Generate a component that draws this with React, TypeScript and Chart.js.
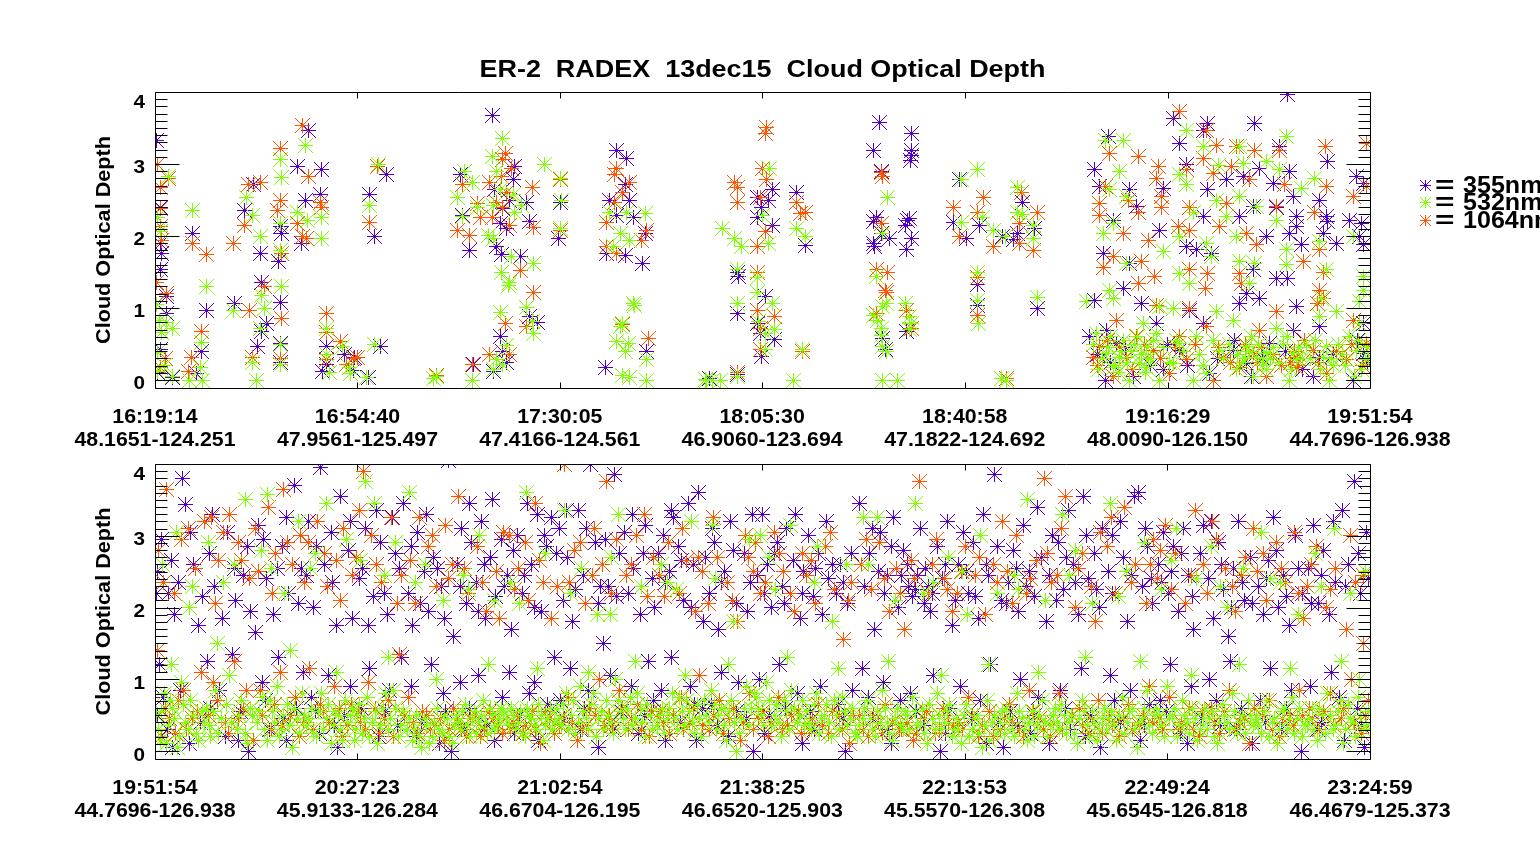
import React, { useEffect, useRef } from "react";
import { Chart, registerables } from "chart.js";

Chart.register(...registerables);

// ---------- axis ticks & labels (minutes after the first tick) ----------
const TOP_TICKS = [0, 35.433, 70.85, 106.267, 141.733, 177.25, 212.667];
const TOP_TIMES = ["16:19:14", "16:54:40", "17:30:05", "18:05:30", "18:40:58", "19:16:29", "19:51:54"];
const TOP_POSITIONS = ["48.1651-124.251", "47.9561-125.497", "47.4166-124.561", "46.9060-123.694", "47.1822-124.692", "48.0090-126.150", "44.7696-126.938"];
const BOTTOM_TICKS = [0, 35.483, 71.0, 106.517, 141.983, 177.5, 213.083];
const BOTTOM_TIMES = ["19:51:54", "20:27:23", "21:02:54", "21:38:25", "22:13:53", "22:49:24", "23:24:59"];
const BOTTOM_POSITIONS = ["44.7696-126.938", "45.9133-126.284", "46.6704-126.195", "46.6520-125.903", "45.5570-126.308", "45.6545-126.818", "46.4679-125.373"];
const Y_LABELS = [0, 1, 2, 3, 4];
const Y_MIN = -0.11;
const Y_MAX = 4.0;
const TITLE = "ER-2  RADEX  13dec15  Cloud Optical Depth";
const Y_TITLE = "Cloud Optical Depth";
const SERIES_NAMES = ["355nm", "532nm", "1064nm"];
const SERIES_COLORS = ["#5200c8", "#80ff00", "#ff5500"];

// ---------- top panel data: [minutes after 16:19:14, optical depth] ----------
const TOP_355 = [
  [0.35,3.33],[0.9,2.4],[0.9,1.9],[1.1,1.76],[0.9,1.53],[2.1,1.16],[2.1,0.93],[0.9,0.42],[0.4,0.1],[3.15,0.04],[7.3,0.09],[8.2,0.39],[6.5,2.04],[9.1,0.97],[14,1.07],[15.75,2.36],[17.3,2.71],[18.4,1.76],[18,0.46],[18.7,0.67],[18.7,1.35],[19.6,0.79],[21.9,2.13],[22.1,2.04],[21.7,1.64],[21.9,1.08],[21.9,0.51],[21.9,0.25],[26.8,3.47],[25,2.96],[26.3,2.5],[25.7,1.9],[29.2,2.92],[28.9,2.57],[30.1,0.46],[30.1,0.22],[29.4,0.12],[33.2,0.35],[34.7,0.13],[35,0.32],
  [37.3,0.04],[39.4,0.47],[40.6,2.85],[37.5,2.58],[38.5,1.99],[49.3,0.05],[53.4,2.85],[53.9,2.29],[55.1,1.8],[55.7,0.21],[59,3.68],[63,2.96],[62.7,2.78],[59.5,2.64],[62.1,2.5],[60.9,2.38],[60.4,2.17],[61.6,2.1],[59.8,1.85],[60.7,1.74],[63.9,1.71],[60.4,0.6],[60.9,0.39],[61.6,0.25],[59.3,0.12],[65.1,2.46],[65.6,2.2],[65.6,0.88],[66.9,0.8],[70.9,2.46],[70.6,1.97],[78.8,0.18],
  [80.8,3.19],[82.6,3.08],[82.3,2.71],[83.1,2.49],[79.6,2.49],[80.8,2.28],[83.7,2.26],[85.8,2.04],[79.1,1.76],[82.3,1.73],[85.4,1.62],[86.1,0.39],[96.6,0],[97.1,0.02],[102,1.5],[102.2,1.44],[102,0.92],[101.9,0.08],
  [108,2.64],[105.4,2.54],[107.3,2.49],[106.2,2.4],[105.4,2.26],[108,2.15],[106.8,1.16],[105.4,0.79],[105.9,0.65],[108.5,0.56],[106.2,0.33],[112.3,2.6],[113.8,1.87],
  [126.9,3.58],[132.5,3.43],[125.7,3.19],[132.5,3.19],[132.5,3.12],[132.3,3.05],[127.2,2.9],[126.3,2.26],[125.7,2.2],[127.2,2.04],[128.6,1.97],[125.7,1.9],[126,1.86],[132.1,2.25],[131.8,2.21],[131.3,2.15],[132.5,1.97],[131.6,1.81],[127.4,0.58],[127.8,0.43],[131.6,0.68],
  [140.9,2.78],[139.7,2.19],[142.1,1.97],[144.4,2.15],[143.9,1.33],[144,1.04],[144.1,0.79],[148.4,1.99],[151.9,2.47],[151,2.04],[150.2,1.95],[154,2.1],[154.5,1.0],
  [198.3,3.96],[192.5,3.56],[184.3,3.56],[178.2,3.63],[179.4,3.29],[183.5,3.47],[166.9,3.38],[196.9,3.24],[205.3,3.03],[198.6,2.89],[193.4,2.94],[164.5,2.92],[180.6,2.99],[187.6,2.78],[190.5,2.82],[165.4,2.69],[176.5,2.66],[184.3,2.64],[195.7,2.73],[170.6,2.64],[203.9,2.5],[210.3,2.82],[211.5,2.73],[199.2,2.55],[171.8,2.41],[192.2,2.41],[196.3,2.39],[189.9,2.27],[199.8,2.27],[183.5,2.27],[167.7,2.22],[209.1,2.22],[211.2,2.17],[205.3,2.2],[199.8,2.13],[175.9,2.08],[198.6,2.04],[204.5,2.04],[194.5,1.99],[210.9,1.99],[180.6,1.85],[182.3,1.81],[200.7,1.88],[206.8,1.9],[166,1.76],[184.9,1.76],[211.5,1.88],[192.2,1.53],[196.3,1.41],[198.3,1.41],[170.6,1.62],[191.1,1.2],[189.9,1.07],[169.5,1.27],[172.7,1.07],[164.5,1.11],[199.8,1.02],[193.4,1.13],[203.9,0.74],[199.2,0.69],[181.1,0.97],[183.5,0.78],[175.3,0.78],[166.6,0.69],[163.6,0.6],[168.3,0.51],[179.4,0.41],[188.8,0.41],[195.1,0.51],[203.9,0.32],[211.5,0.37],[166.3,0],[171.2,0.05],[184.6,0.09],[191.9,0.05],[202.7,0.05],[209.7,0],[191,0.23],[176.5,0.14],[211.5,0.78],[205,2.27],
  [165,0.35],[167.2,0.25],[169.9,0.45],[174.2,0.2],[177.2,0.5],[180.8,0.2],[185.9,0.3],[189,0.55],[193.9,0.3],[197.8,0.4],[200.9,0.15],[206.3,0.35],[210.4,0.55],[212.3,0.25],
];
const TOP_532 = [
  [0.5,2.26],[0.9,2.06],[2.3,2.82],[0.2,1.05],[0.8,0.83],[2.1,0.8],[3,0.72],[1.2,0.66],[0.4,0.38],[0.5,0.12],[3.15,0.05],[1.6,0.2],[7.9,0.18],[8.4,0],[8.2,0.52],[6.1,0],[6.5,2.36],[9.1,1.3],[13.7,0.97],[16.1,2.54],[17,2.29],[18.4,1.99],[17,0.25],[17.8,0],[18.7,1.17],[19.2,1.0],[18.4,0.72],[21.9,3.06],[22.2,2.81],[21.9,2.18],[21.9,1.8],[22.2,1.3],[21.9,0.49],[21.9,0.22],[26.4,3.26],[24.9,2.33],[26.7,2.22],[29.2,2.26],[29.2,1.97],[30.1,0.72],[30.1,0.36],[30.6,0.1],[32.9,0.47],[34.1,0.18],[34.3,0.09],
  [37.1,0.04],[38.5,0.49],[39.2,2.99],[37.5,2.43],[49.3,0.05],[48.8,0.02],[54.2,2.89],[55.5,2.75],[53,2.54],[53.9,2.27],[55.5,0],[56.5,2.4],[60.9,3.36],[59,3.1],[59.8,2.89],[60.4,2.64],[62.7,2.57],[59.3,2.42],[63,2.33],[58.3,2.01],[59.3,1.97],[62.4,1.71],[60.7,1.5],[66.2,1.62],[62.1,1.35],[61.8,1.31],[60.4,0.94],[61.6,0.48],[59.8,0.29],[60.9,0.21],[59.3,0.15],[64.2,2.42],[68.2,2.99],[65.1,1.01],[66,0.82],[66.2,0.65],[70.9,2.8],[71.1,2.5],[70.9,2.1],
  [79.6,2.33],[82.6,2.33],[85.8,2.31],[81.4,2.04],[80.2,1.85],[83.1,1.94],[83.7,1.07],[84,1.04],[81.9,0.79],[81.4,0.75],[80.8,0.54],[82.8,0.51],[82.3,0.4],[86.1,0.29],[81.9,0.06],[83.1,0.03],[86.1,0],[96.6,0],[96.3,0.01],[97.5,0],[98.9,0],[99.4,2.11],[101.5,1.97],[102.7,1.85],[102,1.53],[102,1.07],[101.9,0.05],
  [107.6,2.94],[106.4,2.28],[107.3,1.9],[105.4,1.43],[105.4,1.21],[108,1.07],[105.6,0.82],[108.5,0.7],[106.8,0.65],[106.8,0.42],[112.3,2.11],[113.8,2.0],[113.4,0.42],[111.7,0],
  [128.3,2.53],[127.4,2.04],[126.3,1.44],[128.1,1.07],[127.4,1.02],[125.7,0.9],[126.5,0.83],[127.2,0.72],[127.2,0.62],[127.4,0.47],[128.1,0.4],[129.9,0],[127.4,0],[131.3,1.07],[132.1,0.88],[132.5,0.79],[132.1,0.7],
  [141.2,2.78],[144,2.92],[141.2,2.19],[144.9,2.26],[144,1.5],[144,1.1],[144.2,0.79],[146.7,2.08],[148.8,1.99],[151,2.68],[151,2.32],[151.9,2.3],[153.7,2.15],[153.7,1.97],[154.5,1.15],[149.1,0],[148.2,0.02],
  [166.3,3.33],[169.5,3.33],[198.1,3.38],[180.6,3.47],[189.9,3.24],[183.5,3.24],[196.9,2.92],[194.5,3.03],[168.9,2.89],[203,2.8],[200.7,2.66],[179.4,2.85],[190.5,3.01],[186.1,2.98],[180.6,2.71],[167.1,2.64],[170.1,2.55],[189.9,2.55],[192.8,2.41],[185.8,2.5],[181.7,2.32],[187.6,2.27],[196.3,2.22],[167.7,2.17],[166,2.04],[179.4,1.99],[189.3,1.99],[184.1,1.9],[176.5,1.78],[184.9,1.71],[198.1,1.81],[203.9,1.92],[209.7,1.99],[170.1,1.62],[189.9,1.64],[192.5,1.62],[198.1,1.6],[179.4,1.48],[181.1,1.34],[205,1.53],[211.5,1.44],[167.1,1.25],[191.6,1.34],[211.5,1.25],[210.9,1.09],[163,1.09],[167.7,1.13],[175.9,1.02],[178.2,1.0],[185.8,0.95],[196.3,0.72],[204.2,1.13],[206.8,0.95],[203.9,0.88],[210.9,0.78],[173,0.78],[188.7,0.83],[164.8,0.65],[169.5,0.55],[173.6,0.46],[175.3,0.65],[179.4,0.51],[182.3,0.6],[186.4,0.41],[191,0.46],[192.8,0.32],[194.6,0.37],[199.2,0.37],[199.8,0.28],[204.5,0.32],[205,0.46],[210.3,0.41],[211.8,0.28],[168.9,0.32],[172.4,0.23],[170.6,0],[175.9,0],[181.7,0],[198.6,0],[205.6,0],[210,0.05],[189.3,0.14],[184,0.09],[178.2,0.23],[194.5,0.14],[166.6,0.37],[167.7,0.18],[173.6,0.18],[192.2,0.05],
  [165.8,0.3],[166.9,0.45],[168.1,0.2],[169.2,0.4],[170.3,0.25],[171.4,0.5],[172.6,0.35],[173.9,0.3],[174.8,0.55],[189.5,0.35],[190.4,0.25],[191.5,0.4],[193.1,0.5],[193.8,0.2],[195.2,0.3],[197.6,0.5],[198.9,0.15],[200.1,0.45],[202.3,0.3],[203.2,0.55],[206.2,0.2],[207.8,0.35],[209,0.6],[212.2,0.45],
  [164.2,0.5],[165.1,0.15],[167.3,0.6],[168.6,0.1],[170.9,0.4],[172,0.6],[173.3,0.1],[174.3,0.3],[176.6,0.45],[177.5,0.25],[178.8,0.55],[180.1,0.4],[182.8,0.35],[183.6,0.2],[185.2,0.55],[187.1,0.3],[188,0.5],[190.8,0.3],[191.9,0.6],[194,0.3],[195.7,0.45],[196.8,0.25],[198.3,0.6],[200.8,0.3],[201.6,0.5],[204,0.15],[205.9,0.3],[207.2,0.5],[208.4,0.2],[210.6,0.55],[211.2,0.15],[212.4,0.3],
];
const TOP_1064 = [
  [0.5,3.0],[0.9,2.68],[2.4,2.8],[1.0,2.38],[0.9,2.13],[1.1,1.94],[0.35,1.35],[2.0,1.2],[0.9,0.18],[1.8,0.3],[6.4,0.32],[5.8,0.12],[8.2,0.67],[6.5,1.9],[9.1,1.74],[13.7,1.9],[15.75,2.15],[16.3,2.71],[18.4,2.75],[18.4,2.0],[17,0.32],[16.6,0.97],[19.2,1.3],[21.9,3.22],[21.9,2.5],[21.5,2.36],[22.1,1.76],[22.2,0.86],[21.9,0.3],[25.9,3.54],[26.8,2.82],[24.9,2.18],[25.9,1.99],[26.6,1.96],[28.9,2.46],[29.1,2.4],[30.1,0.93],[30.1,0.66],[30.1,0.29],[32.4,0.53],[33.6,0.22],[34.7,0.3],[35.4,0.32],
  [39,2.97],[37.5,2.19],[49.3,0.07],[53.9,2.71],[53,2.08],[55.1,2.01],[55.5,0.21],[56.9,2.26],[56.4,2.45],[61.3,3.15],[60.9,3.06],[62.4,2.94],[60.7,2.82],[58.6,2.75],[61.6,2.6],[59.8,2.47],[60.9,2.4],[59,2.26],[62.1,2.14],[63.9,1.52],[66.2,1.22],[61.3,0.79],[58.6,0.35],[62.1,0.35],[66,2.67],[66.2,2.12],[65.1,0.75],[70.9,2.78],[70.9,2.08],
  [80.8,2.94],[80.5,2.86],[83.1,2.75],[81.9,2.61],[80.5,2.47],[79.1,2.19],[86.1,2.08],[79.1,1.85],[80.8,1.76],[85.2,1.94],[81.9,0.77],[86.3,0.58],[101.5,2.75],[102,2.68],[102,2.47],[101.9,0.11],
  [107.1,3.51],[106.8,3.42],[106.4,2.94],[107.1,2.78],[105.9,2.54],[106.8,2.06],[105.4,1.85],[105.4,1.5],[105.4,0.97],[108.5,0.88],[105.9,0.72],[105.9,0.42],[112.3,2.46],[112.9,2.31],[113.8,2.33],[113.4,0.39],
  [127.2,2.88],[127.3,2.83],[127.2,2.17],[126.3,1.53],[128.3,1.5],[128.1,1.21],[127.8,1.25],[126.3,0.93],[131.6,0.97],[132.5,0.72],
  [145.1,2.54],[139.7,2.4],[140.9,1.99],[143.9,2.33],[144,1.43],[144,0.9],[146.7,1.85],[151.7,2.61],[151.4,2.18],[151.4,1.9],[154.5,2.32],[153.7,1.8],[149.1,0.02],
  [179.4,3.73],[185.8,3.26],[184,3.47],[189.3,3.24],[192.5,3.19],[196.9,3.19],[204.8,3.24],[212,3.29],[172.1,3.1],[167.1,3.15],[175.6,2.96],[180.6,2.92],[183.5,3.08],[188.4,2.96],[175.3,2.8],[185.2,2.87],[191.6,2.78],[197.7,2.71],[205,2.69],[166.3,2.69],[170.4,2.5],[176.2,2.55],[165.4,2.45],[176.2,2.39],[181.1,2.39],[187.6,2.45],[196.3,2.41],[203,2.32],[209.7,2.55],[212,2.69],[165.4,2.29],[172.1,2.32],[179.1,2.13],[181.1,2.08],[186.4,2.13],[191,2.04],[173.9,1.94],[169.5,2.04],[192.8,1.88],[203.9,1.81],[167.7,1.71],[172.7,1.64],[166,1.57],[181.1,1.53],[184.3,1.48],[189.9,1.48],[201,1.64],[204.5,1.5],[175,1.44],[172.1,1.34],[183.8,1.27],[190.2,1.34],[203.9,1.25],[196.3,0.95],[168.3,0.83],[181.1,1.0],[175.3,1.04],[184.1,0.74],[203.4,1.07],[171.8,0.6],[179.4,0.6],[193.4,0.69],[209.7,0.83],[204.5,1.13],[165.4,0.46],[170.1,0.32],[174.7,0.41],[180.6,0.28],[187,0.32],[189.9,0.18],[192.2,0.37],[199.8,0.32],[202.7,0.41],[208.6,0.28],[212,0.51],[167.7,0.05],[177.6,0.09],[185.2,0],[194.5,0.05],[205,0.09],[199.8,0.18],[164.2,0.32],
  [198.8,0.25],[199.5,0.4],[200.2,0.2],[192.9,0.25],[193.6,0.45],
  [164.9,0.2],[166.8,0.55],[168.9,0.45],[171.1,0.15],[173.2,0.5],[176,0.3],[178.6,0.45],[182.1,0.5],[186.1,0.45],[188.3,0.25],[190.9,0.5],[195.7,0.35],[197.2,0.2],[201.2,0.55],[203.6,0.25],[206.8,0.4],[209.4,0.5],[211.3,0.2],
];

// ---------- bottom panel data: [minutes after 19:51:54, optical depth] ----------
const BOTTOM_355 = [
  [4.9,3.8],[5.3,3.43],[1.2,2.95],[0.5,2.5],[2.4,2.2],[3.5,1.9],[6.8,2.6],[7.6,1.75],[0.8,1.2],[2.2,0.3],[3.1,0.05],[1.5,0.75],[6.1,0.1],[7.9,0.4],
  [9.6,2.75],[10.5,2.3],[12.8,3.05],[14.2,2.1],[15.5,2.45],[16.8,1.95],[9.2,1.25],[11.3,0.85],[13.6,1.35],[15,0.55],[16.4,0],[12.4,0.2],
  [18.2,3.15],[19.6,2.4],[20.8,1.9],[22.3,2.85],[23.5,2.2],[24.4,3.7],[25.7,2.55],[18.8,0.95],[20.1,0.3],[21.6,1.3],[23,0.15],[24.9,0.6],[26,1.1],
  [27,3.2],[27.8,2.0],[29.1,3.95],[29.8,2.6],[31.2,2.35],[32.6,3.55],[33.9,2.8],[34.6,1.85],[27.4,0.75],[28.9,0.25],[30.5,1.05],[32,0.05],[33.2,0.5],[34.2,0.9],
  [35.8,2.4],[36.9,3.1],[38.4,2.15],[39.5,2.9],[40.8,1.9],[41.6,3.25],[42.9,2.55],[43.5,3.45],[36.2,0.6],[37.7,1.15],[39.2,0.2],[41.1,0.85],[42.5,0.35],[43.2,1.3],
  [44.5,2.2],[45.2,1.75],[46.1,3.05],[47.3,2.5],[48,1.95],[48.8,2.7],[50.2,2.3],[51.4,4.05],[52.3,1.6],[45,0.9],[46.8,0.4],[48.5,1.2],[49.9,0.1],[51,0.55],[52,0],
  [53.1,2.6],[53.8,3.1],[54.6,2.05],[55.5,2.9],[56.4,2.35],[57.2,3.2],[58,1.85],[58.9,2.7],[59.8,2.15],[60.7,2.95],[53.5,0.95],[55.1,0.6],[56.8,1.05],[58.4,0.35],[59.5,0.15],[60.9,0.75],
  [61.9,2.45],[62.6,1.7],[63.5,3.0],[64.4,2.2],[65.3,3.45],[66.1,2.6],[67,3.3],[67.8,1.95],[68.7,2.85],[69.6,3.25],[62.2,1.1],[63.9,0.5],[65.6,0.8],[67.3,0.15],[68.9,0.65],[70,1.3],
  [70.9,3.1],[71.6,2.1],[72.4,2.7],[73.2,1.8],[74.3,3.35],[75.1,2.45],[76.4,4.0],[77.3,2.9],[78.2,2.3],[71.2,0.7],[72.9,1.15],[74.6,0.3],[76,0.85],[77.8,0.05],[78.6,1.5],
  [79.5,2.3],[80.6,3.85],[81.4,2.75],[82.3,3.05],[83.1,2.2],[84,2.55],[85.2,1.9],[86.1,3.15],[87.2,2.4],[79.9,1.05],[81.8,0.55],[83.5,0.9],[84.8,0.25],[86.5,1.25],[87.4,0.7],
  [88.3,2.75],[89.1,3.0],[90.2,2.5],[91,3.25],[91.8,2.85],[92.7,2.1],[93.6,3.45],[94.5,2.6],[95.4,3.6],[96.2,1.8],[88.8,0.85],[90.5,1.3],[92.1,0.4],[93.9,0.9],[95,0.15],[96,0.6],
  [97.2,2.2],[98.1,2.9],[98.9,1.7],[99.8,2.5],[100.9,3.2],[102,2.05],[103.3,2.75],[104.5,2.35],[97.6,0.65],[99.3,1.1],[100.6,0.2],[102.4,0.95],[103.8,0.45],[104.9,0],
  [105.7,2.45],[106.5,3.3],[107.4,2.6],[108.2,2.0],[109.1,2.9],[110,2.3],[110.8,3.1],[111.9,2.65],[113.2,1.85],[113.8,2.5],[106,1.0],[107.8,0.5],[109.5,1.2],[111.2,0.3],[112.6,0.8],[113.5,0.1],
  [114.6,3.0],[115.4,2.15],[116.3,2.75],[117.1,1.9],[118.2,2.4],[119.5,2.2],[120.3,2.6],[121.5,2.05],[114.9,0.55],[116.7,0.9],[118.6,0.2],[119.9,0.65],[121.1,0],[122.4,0.85],
  [123.5,3.45],[124.4,2.3],[125.3,2.75],[126.2,1.7],[127.3,3.05],[128.5,2.45],[129.6,3.25],[130.4,2.0],[131.2,2.8],[124,1.15],[125.8,0.45],[127.7,0.95],[129.1,0.1],[130.8,0.7],
  [132.2,2.3],[132.8,2.15],[133.4,2.25],[134.3,3.1],[135.1,2.55],[136,1.95],[137.2,2.85],[138.1,2.4],[139,3.2],[139.8,1.75],[132.5,0.8],[134.7,0.35],[136.6,1.05],[137.8,0],[139.4,0.6],
  [140.9,2.6],[141.8,3.05],[142.6,2.2],[143.5,2.9],[144.4,1.85],[145.3,3.3],[146.2,2.45],[147.3,3.85],[148.4,2.1],[141.2,0.9],[142.9,0.2],[144.8,0.7],[146.5,1.2],[147.9,0.4],[148.8,0.05],
  [149.7,2.35],[150.5,2.8],[151.4,1.95],[152.4,3.15],[153.3,2.5],[154.2,2.15],[155.4,2.7],[156.3,1.8],[157.4,3.0],[150,0.55],[151.8,1.0],[153.6,0.25],[155,0.75],[156.8,0.1],
  [158.5,2.9],[159.3,2.25],[160.2,3.35],[161.1,2.6],[162,1.9],[162.9,3.55],[163.8,2.4],[164.7,2.75],[165.6,2.0],[166.2,3.1],[158.8,0.85],[160.6,0.3],[162.4,1.15],[164.1,0.5],[165.9,0.05],
  [167.2,2.5],[168,3.0],[168.9,2.15],[169.8,2.7],[170.6,1.8],[171.7,3.55],[172.4,3.6],[173.2,2.3],[174.1,2.85],[175,2.05],[167.6,1.05],[169.3,0.4],[171,0.85],[172.8,0.15],[174.5,0.65],
  [176,2.6],[176.9,3.05],[177.7,2.2],[178.6,2.85],[179.5,1.95],[180.4,3.1],[181.3,2.45],[182.2,1.7],[183.3,2.75],[176.3,0.7],[178.1,1.2],[179.9,0.25],[181.7,0.9],[183.6,0.45],
  [184.8,2.4],[185.6,1.85],[186.5,2.9],[187.4,2.25],[188.3,1.6],[189.2,2.55],[190.1,3.2],[191,2.1],[192.1,2.7],[185,1.0],[186.9,0.35],[188.7,1.25],[190.5,0.6],[192.4,0.1],
  [193.5,2.3],[194.4,1.9],[195.3,2.65],[196.2,3.25],[197.1,2.0],[198,2.45],[199,1.75],[200,3.0],[201.2,2.2],[193.8,0.7],[195.7,1.15],[197.5,0.3],[199.4,0.85],[201,0],
  [202.3,2.55],[203.2,3.15],[204.1,2.05],[205,2.8],[206,1.9],[207.1,2.35],[208.2,3.35],[209.3,2.6],[210.4,3.75],[211.4,2.2],[212.5,3.05],[202.7,0.9],[204.5,0.4],[206.4,1.1],[208.6,0.15],[210.9,0.6],[212.2,0.05],
  [0.3,2.2],[2.9,2.65],[4.1,2.35],[6.2,3.05],[8.4,2.15],[10,3.3],[11.8,1.85],[13.9,2.55],[16.2,2.85],[17.6,1.65],[19.1,2.95],[21.4,2.55],[23.1,3.25],[25.2,2.05],[26.6,2.45],[28.4,2.85],[30.9,3.05],[31.9,1.75],[34.3,3.2],[36.4,2.55],[37.4,1.75],[38.9,3.35],[40.2,2.2],[42.2,2.75],[44.9,2.85],[46.6,2.05],[47.7,3.3],[49.5,2.55],[50.8,1.85],[53.5,2.3],[55.1,3.45],[56.8,1.95],[57.8,2.6],[59.2,3.5],[61.3,2.3],[62.9,2.8],[64.8,2.45],[66.5,2.0],[68.3,3.0],[70.4,2.75],[72.1,3.35],[73.7,2.25],[75.7,3.1],[77.7,2.05],[79,2.95],[80.9,2.15],[83.8,3.3],[85.7,2.75],[87.6,2.0],[89.5,2.35],[90.6,3.35],[92.3,2.65],[94.1,2.0],[96.6,2.7],[97.7,3.1],[99.3,2.35],[101.5,2.8],[103.9,1.95],[104.8,3.3],[106.9,2.2],[108.6,2.75],[110.4,2.05],[112.4,3.3],[113.5,2.2],[115.8,2.55],[117.7,3.2],[118.9,2.6],[120.8,2.35],[122.1,2.75],[125.9,3.1],[126.8,2.5],[128,2.2],[129.1,2.85],[130.9,2.45],[131.9,2.6],[133.8,2.45],[134.9,2.05],[135.6,2.3],[136.4,2.2],[138.6,2.6],[140.4,2.1],[142.3,2.5],[143.9,2.15],[145.8,2.6],[147.8,2.85],[149.3,2.05],[151,2.55],[152.9,2.3],[154.7,3.4],[156.9,2.45],[158.1,2.1],[159.8,2.7],[161.5,2.35],[163.3,3.0],[165.2,2.25],[167.9,2.2],[169.4,3.2],[171.2,2.45],[173.7,3.1],[174.7,2.4],[176.5,2.35],[178.2,2.5],[180,2.75],[181.9,2.15],[183.9,3.15],[185.2,3.2],[187,2.6],[188.8,2.0],[190.7,2.35],[192.5,2.05],[194.9,2.4],[196.7,2.8],[198.5,2.15],[200.5,2.55],[202.8,2.05],[204.6,2.45],[206.6,3.2],[208.8,2.3],[211,2.75],[212.8,2.4],
  [0.4,0.5],[4.4,0.85],[9.8,0.6],[14.6,0.15],[19.4,0.7],[22.6,0.45],[28.2,0.55],[31.5,0.35],[36.9,0.3],[40.4,0.55],[45.8,0.2],[50.6,0.8],[54.2,0.3],[57.6,0.7],[63.1,0.25],[66.6,0.95],[71.9,0.45],[75.4,0.6],[80.4,0.3],[85.9,0.5],[89.6,0.15],[94.7,0.65],[98.6,0.35],[101.9,0.55],[106.9,0.25],[110.6,0.6],[115.6,0.3],[120.7,0.45],[125.1,0.75],[128.4,0.3],[133.6,0.55],[138.6,0.25],[143.2,0.45],[145.9,0.1],[151.2,0.35],[154.3,0.5],[159.7,0.6],[163.2,0.2],[168.3,0.7],[173.6,0.35],[177.4,0.55],[181,0.1],[186.2,0.7],[189.7,0.3],[194.7,0.4],[198.5,0.6],[203.8,0.3],[207.8,0.75],[211.6,0.35],
];
const BOTTOM_532 = [
  [1.4,2.6],[3.8,3.05],[6.5,2.3],[0.3,0.5],[0.9,0.15],[1.6,0.8],[2.4,0.35],[3.1,0.6],[3.9,0.05],[4.6,0.95],[5.4,0.4],[6.2,0.7],[7.3,0.25],[8.3,0.55],
  [9.4,2.9],[12.1,2.35],[15.8,3.5],[9.1,0.6],[9.8,0.2],[10.6,0.85],[11.7,0.45],[13,1.05],[14.4,0.3],[15.2,0.7],[16.3,0.1],[17.1,0.5],
  [18.6,2.8],[19.8,3.58],[22.7,2.2],[25.1,3.2],[17.9,0.4],[18.9,0.75],[19.7,0.15],[20.6,0.55],[21.4,0.9],[22.1,0.3],[23.2,0.65],[24.1,0.05],[25,0.45],[25.8,0.8],
  [27.3,2.55],[30.1,3.45],[33.5,2.95],[26.6,0.35],[27.5,0.6],[28.3,0.2],[29.2,0.8],[30,0.45],[30.9,0.1],[31.7,0.55],[32.5,0.3],[33.4,0.7],[34.2,0.5],[35,0.15],
  [37,3.75],[38.5,3.45],[40.3,2.45],[42.2,2.9],[35.5,0.5],[36.4,0.25],[37.3,0.75],[38.2,0.4],[39.1,0.1],[40,0.6],[40.9,0.3],[41.8,0.85],[42.7,0.2],[43.6,0.55],
  [44.6,3.6],[47.4,2.6],[50.6,2.1],[44.2,0.3],[45.1,0.15],[45.9,0.5],[46.8,0.05],[47.7,0.35],[48.6,0.2],[49.5,0.6],[50.4,0.25],[51.3,0.45],[52.2,0.1],
  [54.1,2.45],[56.9,3.0],[59.6,2.1],[52.9,0.5],[53.6,0.3],[54.4,0.65],[55.2,0.2],[56,0.55],[56.8,0.4],[57.6,0.7],[58.4,0.25],[59.2,0.5],[60,0.35],[60.8,0.6],
  [62.3,2.35],[65.2,3.6],[68.4,2.75],[61.7,0.45],[62.5,0.6],[63.3,0.3],[64.1,0.55],[64.9,0.2],[65.7,0.5],[66.5,0.35],[67.3,0.65],[68.1,0.15],[68.9,0.45],[69.7,0.3],
  [71.8,3.35],[74.8,2.55],[77.6,1.9],[70.5,0.6],[71.3,0.35],[72.1,0.8],[73,0.5],[73.8,0.25],[74.7,0.9],[75.6,0.45],[76.5,0.65],[77.4,0.2],[78.3,0.55],
  [80.1,2.7],[81.2,3.3],[85.4,2.3],[79.2,0.7],[80,0.4],[80.8,1.0],[81.7,0.55],[82.5,0.3],[83.4,0.75],[84.2,0.45],[85.1,0.6],[86,0.2],[86.9,0.5],
  [88.9,2.6],[91.5,2.25],[94.1,3.2],[88.1,0.35],[89,0.6],[89.8,0.45],[90.7,0.8],[91.6,0.3],[92.5,0.55],[93.3,0.7],[94.2,0.4],[95.1,0.65],[95.9,0.2],
  [98.3,2.4],[101.4,1.8],[104.2,2.95],[96.8,0.5],[97.6,0.85],[98.5,0.3],[99.4,0.6],[100.2,0.15],[101.1,0.7],[102,0],[102.9,0.45],[103.8,0.9],[104.7,0.6],
  [106.2,3.0],[108.8,2.25],[111.4,3.15],[105.5,0.75],[106.3,0.5],[107.2,0.95],[108.1,0.35],[109,0.65],[109.9,0.2],[110.8,0.55],[111.7,0.85],[112.6,0.4],[113.5,0.7],
  [115.7,2.35],[118.9,1.8],[121.3,2.6],[114.3,0.55],[115.2,0.3],[116,0.8],[116.9,0.45],[117.8,0.65],[118.7,0.2],[119.6,0.5],[120.5,0.75],[121.5,0.35],[122.4,0.6],
  [124.3,3.25],[126.7,3.25],[129.9,2.1],[123.2,0.2],[124,0.45],[124.9,0.7],[125.8,0.3],[126.7,0.55],[127.6,0.85],[128.5,0.4],[129.4,0.15],[130.3,0.6],[131.2,0.3],
  [133.4,3.45],[136.5,2.35],[139.2,2.7],[132,0.5],[132.8,0.75],[133.7,0.35],[134.6,0.6],[135.4,0.1],[136.3,0.45],[137.2,0.8],[138,0.3],[138.9,0.55],[139.8,0.2],
  [141.6,2.5],[144.7,3.0],[147.7,2.2],[140.6,0.45],[141.5,0.1],[142.4,0.65],[143.3,0.3],[144.2,0.5],[145.1,0.05],[146,0.7],[146.9,0.4],[147.8,0.25],[148.7,0.55],
  [150.8,2.45],[153.1,3.5],[156.2,2.1],[149.4,0.6],[150.3,0.3],[151.2,0.8],[152.1,0.45],[153,0.15],[153.9,0.55],[154.8,0.35],[155.7,0.7],[156.6,0.2],[157.5,0.5],
  [159.1,3.3],[161.5,2.8],[164.5,2.05],[158.2,0.4],[159,0.65],[159.9,0.25],[160.8,0.5],[161.7,0.1],[162.6,0.7],[163.5,0.35],[164.4,0.55],[165.3,0.15],[166.2,0.45],
  [167.6,3.45],[170.3,2.5],[173.5,2.9],[166.9,0.3],[167.8,0.55],[168.7,0.15],[169.6,0.75],[170.5,0.4],[171.4,0.6],[172.3,0.05],[173.2,0.45],[174.1,0.85],[175,0.25],
  [176.5,2.25],[179.1,3.1],[182.7,2.4],[175.7,0.6],[176.6,0.35],[177.5,0.9],[178.4,0.5],[179.3,0.2],[180.2,0.7],[181.1,0.4],[182,0.6],[182.9,0.15],[183.8,0.45],
  [185.2,2.85],[188.1,2.0],[190.9,2.55],[184.5,0.3],[185.4,0.55],[186.3,0.1],[187.2,0.65],[188.1,0.4],[189,0.8],[189.9,0.25],[190.8,0.5],[191.7,0.7],[192.6,0.35],
  [194.1,3.05],[197.4,2.35],[200.6,1.9],[193.2,0.5],[194.1,0.25],[195,0.7],[195.9,0.4],[196.8,0.1],[197.7,0.55],[198.6,0.3],[199.5,0.75],[200.4,0.45],[201.3,0.2],
  [203.5,2.75],[206.8,3.1],[209.7,2.2],[212.3,2.5],[202.1,0.35],[203,0.6],[203.9,0.15],[204.8,0.5],[205.7,0.8],[206.6,0.3],[207.5,0.55],[208.4,0.1],[209.3,0.65],[210.2,0.4],[211.1,0.75],[212,0.3],[212.9,0.55],
  [0.6,0.3],[1.2,0.55],[2,0.1],[2.8,0.7],[3.5,0.45],[4.3,0.2],[5,0.65],[5.8,0.3],[6.7,0.5],[7.7,0.15],[8.6,0.4],
  [9.5,0.35],[10.2,0.55],[11.1,0.25],[12.5,0.65],[13.4,0.4],[14.8,0.5],[15.9,0.25],[16.7,0.6],
  [18.3,0.55],[19.2,0.3],[20.2,0.7],[21,0.4],[21.8,0.2],[22.6,0.5],[23.6,0.35],[24.5,0.6],[25.4,0.25],[26.2,0.5],
  [26.9,0.45],[27.8,0.25],[28.7,0.55],[29.6,0.3],[30.5,0.65],[31.3,0.35],[32.1,0.5],[32.9,0.15],[33.8,0.4],[34.6,0.6],
  [35.1,0.3],[35.9,0.65],[36.8,0.45],[37.7,0.2],[38.6,0.55],[39.5,0.35],[40.4,0.8],[41.3,0.45],[42.2,0.6],[43.1,0.35],
  [44.6,0.45],[45.5,0.3],[46.3,0.2],[47.2,0.45],[48.1,0.1],[49,0.4],[49.9,0.3],[50.8,0.5],[51.7,0.2],[52.6,0.35],
  [53.2,0.4],[54,0.55],[54.8,0.35],[55.6,0.45],[56.4,0.25],[57.2,0.5],[58,0.4],[58.8,0.6],[59.6,0.3],[60.4,0.45],[61.2,0.55],
  [62.1,0.35],[62.9,0.5],[63.7,0.4],[64.5,0.25],[65.3,0.6],[66.1,0.45],[66.9,0.3],[67.7,0.5],[68.5,0.35],[69.3,0.6],[70.1,0.4],
  [70.9,0.45],[71.7,0.65],[72.5,0.3],[73.4,0.7],[74.2,0.4],[75.1,0.55],[76,0.3],[76.9,0.8],[77.8,0.45],[78.7,0.3],
  [79.6,0.5],[80.4,0.25],[81.3,0.7],[82.1,0.45],[82.9,0.6],[83.8,0.35],[84.6,0.8],[85.5,0.4],[86.4,0.65],[87.3,0.3],
  [88.5,0.5],[89.4,0.25],[90.3,0.6],[91.1,0.45],[92,0.75],[92.9,0.35],[93.7,0.55],[94.6,0.25],[95.5,0.45],[96.3,0.7],
  [97.2,0.4],[98.1,0.65],[98.9,0.5],[99.8,0.35],[100.7,0.55],[101.6,0.4],[102.5,0.25],[103.4,0.6],[104.3,0.35],[105.1,0.8],
  [105.9,0.6],[106.8,0.35],[107.7,0.7],[108.6,0.5],[109.5,0.4],[110.4,0.7],[111.3,0.3],[112.2,0.6],[113.1,0.5],[113.9,0.35],
  [114.7,0.4],[115.6,0.65],[116.5,0.25],[117.4,0.5],[118.3,0.4],[119.2,0.7],[120.1,0.3],[121,0.55],[121.9,0.45],[122.8,0.25],
  [123.6,0.35],[124.5,0.6],[125.4,0.45],[126.3,0.2],[127.2,0.4],[128.1,0.6],[128.9,0.25],[129.8,0.45],[130.7,0.35],[131.6,0.55],
  [132.4,0.3],[133.3,0.55],[134.2,0.4],[135,0.25],[135.9,0.65],[136.8,0.3],[137.6,0.5],[138.5,0.4],[139.4,0.65],[140.2,0.3],
  [141,0.3],[141.9,0.5],[142.8,0.2],[143.7,0.45],[144.6,0.25],[145.5,0.35],[146.4,0.15],[147.3,0.5],[148.2,0.4],[149,0.25],
  [149.8,0.45],[150.7,0.2],[151.6,0.55],[152.5,0.3],[153.4,0.4],[154.3,0.2],[155.2,0.5],[156.1,0.4],[157,0.35],[157.9,0.6],
  [158.6,0.3],[159.5,0.5],[160.3,0.4],[161.2,0.25],[162.1,0.45],[163,0.55],[163.9,0.2],[164.8,0.4],[165.7,0.3],[166.5,0.6],
  [167.3,0.45],[168.2,0.35],[169.1,0.5],[170,0.25],[170.9,0.55],[171.8,0.3],[172.7,0.4],[173.6,0.6],[174.5,0.35],[175.3,0.5],
  [176.1,0.5],[177,0.2],[177.9,0.45],[178.8,0.6],[179.7,0.35],[180.6,0.5],[181.5,0.25],[182.4,0.45],[183.3,0.3],[184.1,0.6],
  [184.9,0.45],[185.8,0.2],[186.7,0.4],[187.6,0.5],[188.5,0.3],[189.4,0.55],[190.3,0.4],[191.2,0.25],[192.1,0.5],[193,0.4],
  [193.6,0.35],[194.5,0.55],[195.4,0.2],[196.3,0.45],[197.2,0.3],[198.1,0.6],[199,0.45],[199.9,0.25],[200.8,0.6],[201.7,0.35],
  [202.5,0.45],[203.4,0.3],[204.3,0.6],[205.2,0.25],[206.1,0.5],[207,0.35],[207.9,0.7],[208.8,0.3],[209.7,0.45],[210.6,0.2],[211.5,0.5],[212.4,0.35],
  [2.9,1.2],[6,2.0],[10.9,1.5],[14,2.6],[20.5,2.55],[23.8,1.4],[28.2,2.75],[31.9,1.1],[36.1,2.65],[40.9,1.3],[45.7,2.35],[49.4,1.0],[55,2.25],[58.5,1.2],[63.9,2.05],[67.1,1.15],[72.8,2.2],[76.1,1.1],[79.9,1.9],[84.2,1.25],[89.9,2.35],[93.1,1.05],[97.7,3.15],[100.5,1.2],[107.8,2.7],[110.9,1.3],[116.2,2.85],[119.9,1.15],[125.1,2.6],[128.7,1.25],[134.8,2.2],[137.9,1.05],[142.5,1.9],[146.1,1.2],[151.5,2.25],[154.9,1.1],[160.4,2.45],[163.2,1.3],[169,2.15],[172.9,1.25],[178.2,2.65],[181.8,1.05],[186.9,2.3],[190.2,1.2],[195.6,2.4],[199.2,1.15],[204.5,2.3],[208.1,1.25],[211.2,1.0],
];
const BOTTOM_1064 = [
  [0.6,2.8],[2.1,3.65],[3.4,2.2],[5.8,3.1],[7.1,2.55],[0.4,1.4],[1.8,0.6],[3.6,0.25],[5,0.85],[6.6,0.45],[8.1,1.1],
  [9.9,3.25],[11.2,2.65],[13.1,3.3],[14.7,2.9],[16.5,2.4],[10.2,0.95],[12.3,0.4],[14,1.25],[15.6,0.6],[17.2,0.15],
  [18.1,2.5],[19.9,3.4],[21.1,2.75],[22.6,3.65],[24.2,2.6],[25.5,3.0],[18.5,0.85],[20.4,0.3],[22,1.1],[23.8,0.5],[25.4,0.2],
  [26.9,2.9],[28.5,3.2],[30.3,2.3],[31.8,2.65],[33.1,3.1],[34.7,2.45],[27.1,1.15],[29.5,0.55],[31.4,0.9],[32.9,0.2],[34.4,0.65],
  [35.4,2.7],[36.6,3.9],[37.9,3.0],[39.8,2.35],[41.4,3.25],[42.6,2.05],[36,0.4],[37.5,0.95],[39.4,0.25],[41,0.7],[42.9,1.35],[43.7,0.5],
  [44.8,2.65],[46.4,3.25],[47.9,2.85],[49.3,2.3],[50.9,3.15],[52.1,2.6],[44.4,0.75],[46.1,0.25],[47.6,0.5],[49.1,0.35],[50.7,0.15],[52.4,0.6],
  [53.3,3.55],[54.9,2.2],[56.6,2.85],[58.2,1.95],[59.9,2.5],[61.1,3.05],[53.8,0.3],[55.4,0.45],[57,0.2],[58.7,0.55],[60.3,0.35],
  [62.1,3.0],[63.8,2.55],[65.5,2.1],[66.8,3.45],[68.2,2.35],[69.5,1.85],[62.8,0.4],[64.6,0.25],[66.2,0.55],[67.6,0.1],[69.2,0.45],
  [70.6,2.3],[71.9,4.0],[73.5,2.8],[75.5,2.05],[77,3.1],[78.5,2.6],[71,0.35],[72.6,0.75],[74.1,0.15],[76.2,0.6],[77.9,1.0],
  [79.2,3.75],[80.9,2.95],[82.7,2.45],[84.4,3.0],[86.3,2.15],[87.5,2.7],[79.7,0.5],[81.4,0.85],[83,0.3],[84.7,0.65],[86.7,0.2],
  [88.5,2.45],[90,2.9],[91.9,2.2],[93.2,2.65],[94.8,1.95],[96.1,2.5],[88.6,0.55],[90.3,0.25],[92.3,0.75],[93.7,0.4],[95.5,1.05],
  [97,2.05],[98.6,2.7],[100.4,2.35],[102.2,1.8],[103.5,3.0],[105,2.5],[97.3,0.3],[99,0.7],[100.8,0.45],[102.7,0.15],[104.3,0.8],
  [105.4,2.9],[107,2.35],[108.6,3.05],[110.3,2.5],[112.1,1.95],[113.6,2.75],[105.9,0.45],[107.6,0.2],[109.3,0.75],[111,0.35],[112.9,0.55],
  [114.3,2.45],[115.9,2.05],[117.6,2.85],[119.1,2.25],[120.8,1.55],[122.2,2.35],[114.7,0.3],[116.4,0.65],[118.1,0.25],[120.1,0.5],[121.8,0.1],
  [123.9,2.6],[125.6,2.25],[127,2.9],[128.8,1.95],[130.1,2.55],[131.4,1.7],[123.5,0.5],[125.2,0.2],[126.9,0.4],[128.2,0.65],[130.5,0.3],
  [132.6,2.65],[134,3.75],[135.6,2.2],[137,2.95],[138.5,2.4],[139.9,1.95],[133,0.15],[134.9,0.45],[136.8,0.25],[138.3,0.6],[140,0.35],
  [140.7,2.2],[142.1,2.85],[143.9,2.45],[145.6,1.9],[147,2.6],[148.6,3.2],[141,0.4],[142.7,0.75],[144.5,0.2],[146.3,0.55],[148.2,0.3],
  [149.5,2.5],[151.1,3.0],[152.8,2.2],[154.6,2.65],[156,3.8],[157.2,2.35],[149.9,0.65],[151.6,0.3],[153.4,0.85],[155.2,0.45],[157,0.2],
  [158.3,2.45],[159.7,3.55],[161.4,2.0],[162.7,2.75],[164.2,2.3],[165.8,3.05],[158.6,0.8],[160.3,0.4],[162.1,0.6],[163.9,0.25],[165.5,0.7],
  [167,2.85],[168.5,2.2],[170,3.4],[171.9,2.6],[173.8,2.05],[175.2,2.95],[167.4,0.5],[169.1,0.2],[170.8,0.65],[172.6,0.35],[174.4,0.9],
  [175.8,2.4],[177.3,3.15],[179,2.75],[180.7,2.05],[182.5,3.35],[183.9,2.6],[176.1,0.45],[177.9,0.75],[179.7,0.3],[181.4,0.6],[183.1,0.2],
  [184.6,2.2],[186.2,2.95],[187.8,2.55],[189.5,1.95],[191.3,2.7],[192.6,3.1],[185.2,0.6],[186.7,0.25],[188.5,0.85],[190.2,0.4],[192,0.1],
  [193.3,2.5],[195,2.1],[196.6,2.9],[198.3,2.35],[199.8,3.05],[201.5,1.85],[193.6,0.35],[195.4,0.7],[197.2,0.2],[199.1,0.5],[200.8,0.85],
  [202.1,2.3],[203.7,2.85],[205.4,2.0],[207,2.55],[208.9,1.7],[210.6,2.35],[212,1.5],[202.5,0.6],[204.2,0.3],[206.1,0.8],[208,0.45],[209.9,1.0],[211.6,0.25],[212.8,0.7],
  [1.1,0.2],[2.6,0.45],[4.2,0.7],[5.6,0.3],[7.5,0.55],[9.4,0.5],[11,0.7],[12.9,0.25],[14.6,0.45],[16.1,0.85],[18.9,0.5],[20.9,0.65],[22.4,0.35],[24.6,0.75],[26,0.4],
  [27.8,0.3],[29,0.65],[30.6,0.4],[32.3,0.6],[33.8,0.35],[35.7,0.55],[37,0.3],[38.6,0.6],[40.3,0.45],[41.9,0.2],[45.3,0.4],[46.9,0.55],[48.3,0.3],[50,0.45],[51.6,0.3],
  [53.1,0.45],[54.6,0.2],[56.2,0.5],[57.8,0.3],[59.4,0.45],[60.9,0.25],[62.3,0.3],[63.5,0.5],[65,0.35],[66.8,0.3],[68.4,0.55],[70,0.25],
  [71.6,0.5],[73.2,0.4],[74.9,0.3],[75.7,0.35],[77.2,0.5],[78.8,0.35],[80.3,0.35],[82,0.6],[83.6,0.45],[85.4,0.3],[87.1,0.55],
  [89.2,0.4],[91,0.5],[92.7,0.3],[94.4,0.6],[96,0.35],[98,0.5],[99.7,0.25],[101.5,0.6],[103.2,0.4],[104.9,0.3],
  [106.6,0.55],[108.2,0.4],[110,0.3],[111.7,0.5],[113.3,0.25],[115.3,0.45],[117,0.35],[118.8,0.55],[120.5,0.3],[122.5,0.5],
  [124.3,0.3],[126,0.5],[127.6,0.25],[129.3,0.4],[131,0.3],[131.9,0.4],[133.6,0.25],[135.3,0.55],[137.5,0.3],[139.2,0.4],
  [141.7,0.3],[143.4,0.5],[145.2,0.35],[147.1,0.2],[148.9,0.45],[150.4,0.4],[152.3,0.2],[154,0.55],[155.9,0.3],[157.5,0.4],
  [159.2,0.3],[160.9,0.5],[162.7,0.35],[164.5,0.45],[166.1,0.25],[168,0.35],[169.8,0.45],[171.5,0.3],[173.3,0.5],[175,0.4],
  [176.7,0.3],[178.5,0.5],[180.1,0.4],[182.1,0.3],[183.7,0.55],[185.8,0.4],[187.5,0.55],[189.3,0.3],[191,0.45],[192.9,0.6],
  [194.2,0.5],[196,0.3],[197.8,0.45],[199.6,0.35],[201.3,0.5],[203,0.45],[204.9,0.55],[206.7,0.35],[208.5,0.6],[210.3,0.4],[212.3,0.5],
  [1.5,2.35],[4.6,2.95],[8.6,3.2],[10.6,2.05],[12,3.05],[15.2,2.65],[17.6,3.1],[20.6,2.2],[23.3,2.9],[26.3,2.35],[29.8,2.75],[32.6,2.1],[35.9,3.35],[38.8,2.6],[43.3,2.45],[45.7,2.05],[48.6,3.0],[51.5,2.4],[54.2,2.55],[57.5,2.35],[60.5,1.85],[63.1,2.25],[65,2.9],[67.4,2.65],[72.7,2.35],[74.6,2.9],[76.7,2.45],[80.1,2.2],[83.5,2.6],[85.8,3.3],[89.3,2.15],[92.5,3.1],[95.3,2.7],[98,3.25],[101.3,2.1],[104.1,2.7],[106.2,2.2],[109.5,2.75],[111.4,2.2],[115.1,2.65],[118.5,3.05],[121.6,2.1],[124.8,2.95],[127.9,2.4],[130.8,2.2],[133.2,2.4],[136.3,2.6],[139,2.25],[141.4,2.5],[144.6,2.7],[147.8,2.35],[150.3,2.05],[153.6,2.4],[156.6,2.75],[158.9,3.1],[161.9,2.55],[164.9,1.8],[167.7,3.25],[171.2,2.35],[174.6,2.6],[176.4,2.8],[178.2,2.25],[181.7,2.45],[185.4,3.2],[188.9,2.3],[190.5,2.45],[194.4,2.75],[197.5,2.55],[200.5,2.2],[202.9,2.6],[206.2,2.25],[209.6,3.0],[211.9,2.45],
];

// ---------- drawing helpers ----------
const FONT = '"Liberation Sans", Arial, Helvetica, sans-serif';

function makeStar(color: string, half: number): HTMLCanvasElement {
  const s = half * 2 + 1;
  const c = document.createElement("canvas");
  c.width = s;
  c.height = s;
  const g = c.getContext("2d")!;
  g.strokeStyle = color;
  g.lineWidth = 1;
  g.beginPath();
  g.moveTo(0, half + 0.5);
  g.lineTo(s, half + 0.5);
  g.moveTo(half + 0.5, 0);
  g.lineTo(half + 0.5, s);
  g.moveTo(0, 0);
  g.lineTo(s, s);
  g.moveTo(s, 0);
  g.lineTo(0, s);
  g.stroke();
  g.fillStyle = color;
  g.fillRect(half - 1, half - 1, 3, 3);
  return c;
}

function drawText(ctx: CanvasRenderingContext2D, s: string, x: number, y: number, size: number, align: string, sx = 1) {
  ctx.save();
  ctx.font = `bold ${size}px ${FONT}`;
  ctx.textAlign = "left";
  ctx.textBaseline = "alphabetic";
  ctx.fillStyle = "#000";
  const w = ctx.measureText(s).width * sx;
  const x0 = align === "left" ? x : align === "center" ? x - w / 2 : x - w;
  ctx.translate(x0, y);
  ctx.scale(sx, 1);
  ctx.fillText(s, 0, 0);
  ctx.restore();
}

function panelPlugin(ticks: number[], times: string[], positions: string[], isTop: boolean, legendStars: HTMLCanvasElement[]) {
  return {
    id: "idlPanel" + (isTop ? "Top" : "Bottom"),
    beforeDraw(chart: any) {
      const ctx = chart.ctx as CanvasRenderingContext2D;
      ctx.save();
      ctx.fillStyle = "#fff";
      ctx.fillRect(0, 0, chart.width, chart.height);
      ctx.restore();
      ctx.imageSmoothingEnabled = false;
    },
    afterDraw(chart: any) {
      const ctx = chart.ctx as CanvasRenderingContext2D;
      const a = chart.chartArea;
      const xs = chart.scales.x;
      const ys = chart.scales.y;
      const L = Math.round(a.left) + 0.5;
      const R = Math.round(a.right) + 0.5;
      const T = Math.round(a.top) + 0.5;
      const B = Math.round(a.bottom) + 0.5;
      ctx.save();
      ctx.strokeStyle = "#000";
      ctx.lineWidth = 1;
      ctx.beginPath();
      ctx.rect(L, T, R - L, B - T);
      for (let i = 0; i < 40; i++) {
        const v = i / 10;
        const py = Math.round(ys.getPixelForValue(v)) + 0.5;
        const len = i % 10 === 0 ? 24 : 12;
        ctx.moveTo(L, py);
        ctx.lineTo(L + len, py);
        ctx.moveTo(R, py);
        ctx.lineTo(R - len, py);
      }
      ticks.forEach((t) => {
        const px = Math.round(xs.getPixelForValue(t)) + 0.5;
        ctx.moveTo(px, T);
        ctx.lineTo(px, T + 6);
        ctx.moveTo(px, B);
        ctx.lineTo(px, B - 6);
      });
      ctx.stroke();
      ctx.restore();

      Y_LABELS.forEach((v) => {
        const py = ys.getPixelForValue(v);
        const cy = Math.max(py + 3, a.top + 10);
        drawText(ctx, String(v), 145, cy + 6.4, 18, "right", 1.15);
      });
      ticks.forEach((t, i) => {
        const px = xs.getPixelForValue(t);
        drawText(ctx, times[i], px, a.bottom + 35, 20, "center", 1.065);
        drawText(ctx, positions[i], px, a.bottom + 57.5, 20, "center", 1.065);
      });
      ctx.save();
      ctx.translate(110, (a.top + a.bottom) / 2);
      ctx.rotate(-Math.PI / 2);
      drawText(ctx, Y_TITLE, 0, 0, 21, "center", 1.03);
      ctx.restore();

      if (isTop) {
        ctx.save();
        ctx.font = `bold 24px ${FONT}`;
        const tw = ctx.measureText(TITLE).width;
        ctx.restore();
        drawText(ctx, TITLE, (a.left + a.right) / 2, 77, 24, "center", 566 / tw);
        const rows = [185, 202, 220];
        SERIES_NAMES.forEach((name, i) => {
          const st = legendStars[i];
          ctx.drawImage(st, 1425 - Math.floor(st.width / 2), rows[i] - Math.floor(st.height / 2));
          drawText(ctx, "=", 1435, rows[i] + 8.3, 23, "left", 1.45);
          drawText(ctx, name, 1463, rows[i] + 8.3, 23, "left", 1.09);
        });
      }
    },
  };
}

function toPoints(arr: number[][]) {
  return arr.map(([x, y]) => ({ x, y }));
}

function buildConfig(p: number[][], g: number[][], o: number[][], ticks: number[], times: string[], positions: string[], padTop: number, padBottom: number, isTop: boolean, stars: HTMLCanvasElement[], legendStars: HTMLCanvasElement[]): any {
  return {
    type: "scatter",
    data: {
      datasets: [
        { label: SERIES_NAMES[0], data: toPoints(p), pointStyle: stars[0], pointRadius: 7, borderColor: SERIES_COLORS[0], backgroundColor: SERIES_COLORS[0], order: 3, clip: 0 },
        { label: SERIES_NAMES[1], data: toPoints(g), pointStyle: stars[1], pointRadius: 7, borderColor: SERIES_COLORS[1], backgroundColor: SERIES_COLORS[1], order: 1, clip: 0 },
        { label: SERIES_NAMES[2], data: toPoints(o), pointStyle: stars[2], pointRadius: 7, borderColor: SERIES_COLORS[2], backgroundColor: SERIES_COLORS[2], order: 2, clip: 0 },
      ],
    },
    options: {
      responsive: false,
      maintainAspectRatio: false,
      animation: false,
      events: [],
      layout: { padding: { top: padTop, bottom: padBottom, left: 155, right: 170 } },
      scales: {
        x: { type: "linear", display: false, min: 0, max: ticks[ticks.length - 1] },
        y: { type: "linear", display: false, min: Y_MIN, max: Y_MAX },
      },
      plugins: {
        legend: { display: false },
        title: { display: false },
        tooltip: { enabled: false },
      },
    },
    plugins: [panelPlugin(ticks, times, positions, isTop, legendStars)],
  };
}

export default function App() {
  const topRef = useRef<HTMLCanvasElement>(null);
  const botRef = useRef<HTMLCanvasElement>(null);

  useEffect(() => {
    const stars = SERIES_COLORS.map((c) => makeStar(c, 7));
    const legendStars = SERIES_COLORS.map((c) => makeStar(c, 5));
    const c1 = new Chart(topRef.current!, buildConfig(TOP_355, TOP_532, TOP_1064, TOP_TICKS, TOP_TIMES, TOP_POSITIONS, 92, 62, true, stars, legendStars));
    const c2 = new Chart(botRef.current!, buildConfig(BOTTOM_355, BOTTOM_532, BOTTOM_1064, BOTTOM_TICKS, BOTTOM_TIMES, BOTTOM_POSITIONS, 14, 86, false, stars, legendStars));
    return () => {
      c1.destroy();
      c2.destroy();
    };
  }, []);

  return (
    <div style={{ position: "absolute", left: 0, top: 0, width: 1540, height: 845, background: "#fff", overflow: "hidden" }}>
      <canvas ref={topRef} width={1540} height={450} style={{ position: "absolute", left: 0, top: 0 }} />
      <canvas ref={botRef} width={1540} height={395} style={{ position: "absolute", left: 0, top: 450 }} />
    </div>
  );
}
